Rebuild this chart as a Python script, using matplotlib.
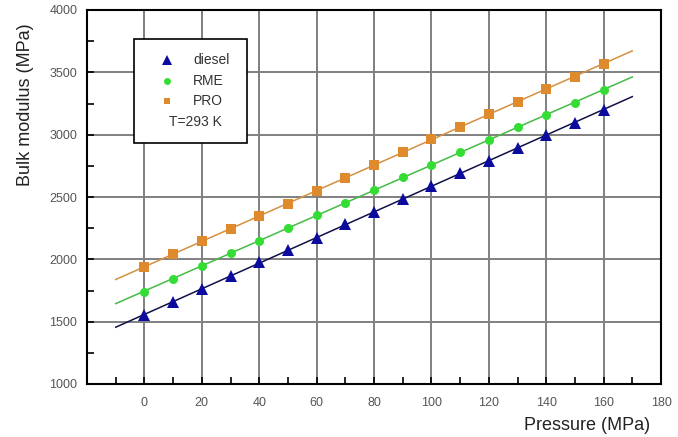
import numpy as np
import matplotlib
matplotlib.use("Agg")
import matplotlib.pyplot as plt
from matplotlib.patches import Rectangle
from matplotlib.ticker import MultipleLocator

plt.rcParams['font.family'] = ['Liberation Sans', 'DejaVu Sans']

pressure = [0, 10, 20, 30, 40, 50, 60, 70, 80, 90, 100, 110, 120, 130, 140, 150, 160]
diesel = [1550, 1655, 1765, 1870, 1975, 2075, 2175, 2280, 2380, 2485, 2590, 2690, 2790, 2895, 2995, 3095, 3200]
rme = [1740, 1845, 1945, 2050, 2150, 2250, 2355, 2455, 2555, 2660, 2760, 2860, 2960, 3060, 3160, 3255, 3355]
pro = [1940, 2040, 2145, 2245, 2345, 2445, 2550, 2655, 2760, 2860, 2965, 3065, 3165, 3265, 3365, 3465, 3565]
fit_range = [-10, 170]
x_ticks = [0, 20, 40, 60, 80, 100, 120, 140, 160, 180]
y_ticks = [1000, 1500, 2000, 2500, 3000, 3500, 4000]
series_names = ["diesel", "RME", "PRO"]
note = "T=293 K"

fig = plt.figure(figsize=(6.78, 4.37), dpi=100)
ax = fig.add_axes([87/678, 53/437, 574/678, 374/437])

styles = [
    dict(marker='^', mc='#0b0b9e', lc='#10104a', ms=8.5),
    dict(marker='o', mc='#33dd33', lc='#44bb44', ms=6.5),
    dict(marker='s', mc='#e08a2e', lc='#d49040', ms=6.5),
]

xs = np.array(pressure, dtype=float)
xf = np.array(fit_range, dtype=float)
for ys, st in zip([diesel, rme, pro], styles):
    ys = np.array(ys, dtype=float)
    k, b = np.polyfit(xs, ys, 1)
    ax.plot(xf, k * xf + b, color=st['lc'], lw=1.1, zorder=3)
    ax.plot(xs, ys, linestyle='none', marker=st['marker'], color=st['mc'],
            markersize=st['ms'], markeredgewidth=0, zorder=4)

ax.set_xlim(-20, 180)
ax.set_ylim(1000, 4000)
ax.set_xticks(x_ticks)
ax.set_yticks(y_ticks)
ax.xaxis.set_minor_locator(MultipleLocator(10))
ax.yaxis.set_minor_locator(MultipleLocator(250))
ax.tick_params(which='both', direction='in', colors='black', labelcolor='#555555', labelsize=9)
ax.tick_params(which='major', length=5, width=1.2)
ax.tick_params(which='minor', length=5, width=1.2)
ax.tick_params(axis='x', pad=9)
ax.tick_params(axis='y', pad=7)
ax.grid(True, which='major', color='#808080', lw=1.4)
ax.set_axisbelow(True)
for s in ax.spines.values():
    s.set_linewidth(1.5)
    s.set_color('black')

ax.set_ylabel("Bulk modulus (MPa)", fontsize=13, color='#222222', va='center')
ax.yaxis.set_label_coords(-0.108, 0.746)
ax.set_xlabel("Pressure (MPa)", fontsize=13, color='#222222', ha='right', va='center')
ax.xaxis.set_label_coords(0.981, -0.11)

# legend box
ax.add_patch(Rectangle((0.082, 0.644), 0.197, 0.278, transform=ax.transAxes,
                       facecolor='white', edgecolor='black', lw=1.2, zorder=5))
ys_leg = [0.866, 0.811, 0.757]
for name, st, yl in zip(series_names, styles, ys_leg):
    ax.plot([0.139], [yl], transform=ax.transAxes, marker=st['marker'], color=st['mc'],
            markersize=st['ms'] - 1.5, markeredgewidth=0, linestyle='none', zorder=6, clip_on=False)
    ax.text(0.185, yl, name, transform=ax.transAxes, fontsize=10, color='#333333',
            va='center', ha='left', zorder=6)
ax.text(0.143, 0.701, note, transform=ax.transAxes, fontsize=10, color='#333333',
        va='center', ha='left', zorder=6)

fig.savefig("out.png", dpi=100)
